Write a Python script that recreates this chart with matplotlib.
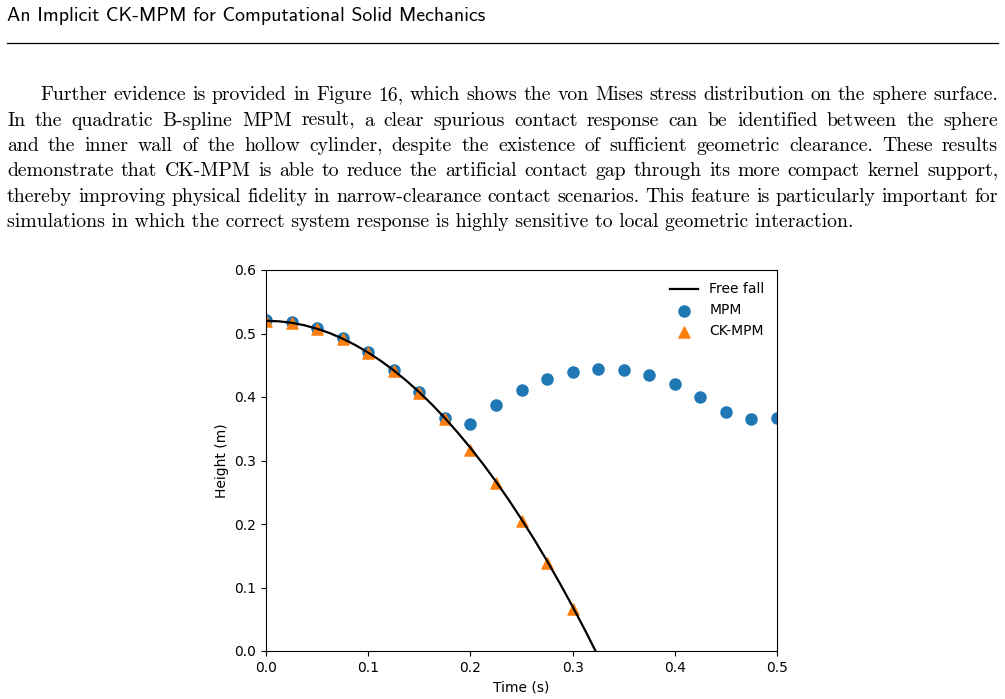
import matplotlib
matplotlib.use("Agg")
import matplotlib.pyplot as plt
from matplotlib.font_manager import FontProperties
from matplotlib.lines import Line2D

# ---------------- data ----------------
header_text = "An Implicit CK-MPM for Computational Solid Mechanics"
paragraph_lines = [
    "Further evidence is provided in Figure 16, which shows the von Mises stress distribution on the sphere surface.",
    "In the quadratic B-spline MPM result, a clear spurious contact response can be identified between the sphere",
    "and the inner wall of the hollow cylinder, despite the existence of sufficient geometric clearance. These results",
    "demonstrate that CK-MPM is able to reduce the artificial contact gap through its more compact kernel support,",
    "thereby improving physical fidelity in narrow-clearance contact scenarios. This feature is particularly important for",
    "simulations in which the correct system response is highly sensitive to local geometric interaction.",
]

freefall_t = [0.0, 0.0125, 0.025, 0.0375, 0.05, 0.0625, 0.075, 0.0875, 0.1, 0.1125,
              0.125, 0.1375, 0.15, 0.1625, 0.175, 0.1875, 0.2, 0.2125, 0.225, 0.2375,
              0.25, 0.2625, 0.275, 0.2875, 0.3, 0.3125, 0.325]
freefall_h = [0.52, 0.5192, 0.5169, 0.5130, 0.5075, 0.5005, 0.4919, 0.4817, 0.47, 0.4567,
              0.4419, 0.4255, 0.4075, 0.3880, 0.3669, 0.3442, 0.32, 0.2942, 0.2669, 0.2380,
              0.2075, 0.1755, 0.1419, 0.1067, 0.07, 0.0317, -0.0081]

mpm_t = [0.0, 0.025, 0.05, 0.075, 0.1, 0.125, 0.15, 0.175, 0.2, 0.225, 0.25,
         0.275, 0.3, 0.325, 0.35, 0.375, 0.4, 0.425, 0.45, 0.475, 0.5]
mpm_h = [0.521, 0.518, 0.509, 0.493, 0.471, 0.443, 0.408, 0.367, 0.357, 0.388, 0.411,
         0.428, 0.439, 0.444, 0.4425, 0.435, 0.421, 0.4005, 0.3765, 0.3655, 0.3665]

ck_t = [0.0, 0.025, 0.05, 0.075, 0.1, 0.125, 0.15, 0.175, 0.2, 0.225, 0.25, 0.275, 0.3]
ck_h = [0.519, 0.516, 0.507, 0.491, 0.469, 0.441, 0.406, 0.366, 0.317, 0.264, 0.205, 0.138, 0.066]

xticks = [0.0, 0.1, 0.2, 0.3, 0.4, 0.5]
yticks = [0.0, 0.1, 0.2, 0.3, 0.4, 0.5, 0.6]

# ---------------- figure ----------------
W, H = 1005, 699
fig = plt.figure(figsize=(W / 100, H / 100), dpi=100)
renderer = fig.canvas.get_renderer()


def text_width(s, fp):
    w, h, d = renderer.get_text_width_height_descent(s, fp, ismath=False)
    return w


def px(x, y):
    return x / W, 1 - y / H


# header
hfp = FontProperties(family="cmss10", size=14)
hw = text_width(header_text, hfp)
hfp.set_size(14 * (484 - 7) / hw)
fig.text(*px(7, 20.7), header_text, fontproperties=hfp, va="baseline", ha="left", color="black")
fig.add_artist(Line2D([7 / W, 998 / W], [1 - 43 / H, 1 - 43 / H], color="black", lw=0.9))

# paragraph (justified)
pfp = FontProperties(family="cmr10", size=13)
lw6 = text_width(paragraph_lines[-1], pfp)
pfp.set_size(13 * (858 - 7) / lw6)
baselines = [100, 125.5, 151, 176.5, 202, 227.5]
left, right = 7, 998
for i, line in enumerate(paragraph_lines):
    x0 = 40 if i == 0 else left
    yb = baselines[i]
    if i == len(paragraph_lines) - 1:
        fig.text(*px(x0, yb), line, fontproperties=pfp, va="baseline", ha="left", color="black")
        continue
    words = line.split(" ")
    widths = [text_width(w_, pfp) for w_ in words]
    gap = (right - x0 - sum(widths)) / (len(words) - 1)
    x = x0
    for w_, ww in zip(words, widths):
        fig.text(*px(x, yb), w_, fontproperties=pfp, va="baseline", ha="left", color="black")
        x += ww + gap

# chart
ax = fig.add_axes([266 / W, 1 - 651 / H, (777 - 266) / W, (651 - 270) / H])
ax.plot(freefall_t, freefall_h, color="black", lw=1.6, label="Free fall", zorder=3)
ax.scatter(mpm_t, mpm_h, s=64, color="#1f77b4", label="MPM", zorder=1)
ax.scatter(ck_t, ck_h, s=64, marker="^", color="#ff7f0e", label="CK-MPM", zorder=2)
ax.set_xlim(0, 0.5)
ax.set_ylim(0, 0.6)
ax.set_xticks(xticks)
ax.set_yticks(yticks)
ax.set_xlabel("Time (s)")
ax.set_ylabel("Height (m)")
ax.legend(loc="upper right", frameon=False)

fig.savefig("out.png", dpi=100)
